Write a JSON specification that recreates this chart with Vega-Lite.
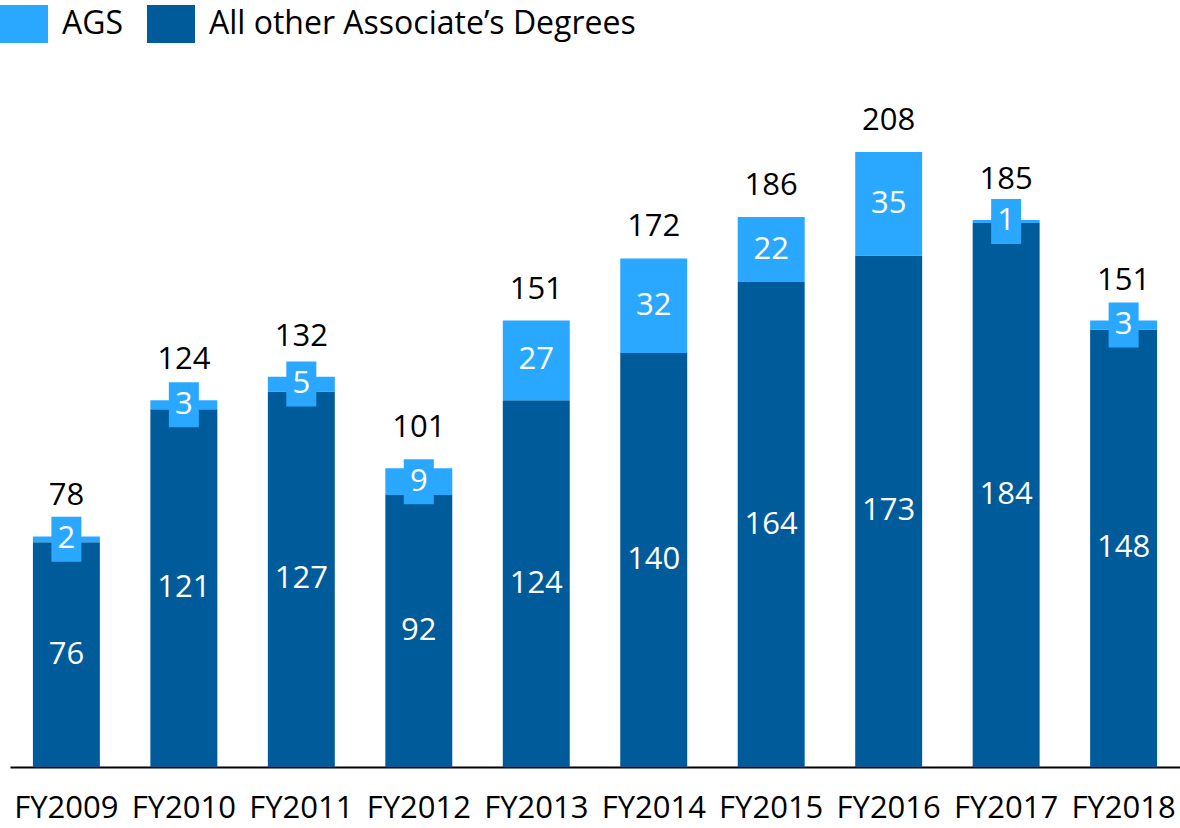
{
  "$schema": "https://vega.github.io/schema/vega-lite/v6.json",
  "width": 1170,
  "height": 615,
  "autosize": {"type": "none"},
  "padding": {"left": 10, "top": 152, "right": 0, "bottom": 61},
  "background": "white",
  "config": {
    "font": "Open Sans",
    "view": {"stroke": null},
    "legend": {
      "orient": "none",
      "direction": "horizontal",
      "legendX": -5,
      "legendY": -147,
      "padding": 0,
      "symbolType": "M-1.264,-1H1.264V1H-1.264Z",
      "symbolSize": 1444,
      "symbolStrokeWidth": 0,
      "symbolOpacity": 1,
      "labelFontSize": 32,
      "labelColor": "black",
      "labelOffset": 19,
      "columnPadding": 22,
      "labelLimit": 700,
      "title": null
    }
  },
  "data": {
    "values": [
      {"year": "FY2009", "type": "All other Associate’s Degrees", "value": 76},
      {"year": "FY2009", "type": "AGS", "value": 2},
      {"year": "FY2010", "type": "All other Associate’s Degrees", "value": 121},
      {"year": "FY2010", "type": "AGS", "value": 3},
      {"year": "FY2011", "type": "All other Associate’s Degrees", "value": 127},
      {"year": "FY2011", "type": "AGS", "value": 5},
      {"year": "FY2012", "type": "All other Associate’s Degrees", "value": 92},
      {"year": "FY2012", "type": "AGS", "value": 9},
      {"year": "FY2013", "type": "All other Associate’s Degrees", "value": 124},
      {"year": "FY2013", "type": "AGS", "value": 27},
      {"year": "FY2014", "type": "All other Associate’s Degrees", "value": 140},
      {"year": "FY2014", "type": "AGS", "value": 32},
      {"year": "FY2015", "type": "All other Associate’s Degrees", "value": 164},
      {"year": "FY2015", "type": "AGS", "value": 22},
      {"year": "FY2016", "type": "All other Associate’s Degrees", "value": 173},
      {"year": "FY2016", "type": "AGS", "value": 35},
      {"year": "FY2017", "type": "All other Associate’s Degrees", "value": 184},
      {"year": "FY2017", "type": "AGS", "value": 1},
      {"year": "FY2018", "type": "All other Associate’s Degrees", "value": 148},
      {"year": "FY2018", "type": "AGS", "value": 3}
    ]
  },
  "encoding": {
    "x": {
      "field": "year",
      "type": "nominal",
      "sort": null,
      "scale": {"paddingInner": 0.43, "paddingOuter": 0.195},
      "axis": {
        "title": null,
        "labelAngle": 0,
        "labelFontSize": 31,
        "labelColor": "black",
        "labelBaseline": "alphabetic",
        "labelPadding": 50,
        "ticks": false,
        "domainColor": "black",
        "domainWidth": 2
      }
    }
  },
  "layer": [
    {
      "mark": {"type": "bar"},
      "encoding": {
        "y": {
          "field": "value",
          "type": "quantitative",
          "stack": "zero",
          "scale": {"domain": [0, 208], "nice": false},
          "axis": null
        },
        "color": {
          "field": "type",
          "type": "nominal",
          "scale": {
            "domain": ["AGS", "All other Associate’s Degrees"],
            "range": ["#2AA8FF", "#005B9A"]
          }
        },
        "order": {"field": "type", "sort": "descending"}
      }
    },
    {
      "transform": [
        {"stack": "value", "groupby": ["year"], "sort": [{"field": "type", "order": "descending"}], "as": ["y0", "y1"]},
        {"calculate": "(datum.y0 + datum.y1) / 2", "as": "mid"},
        {"filter": "datum.type == 'AGS' && datum.value < 15"}
      ],
      "mark": {
        "type": "point",
        "shape": "M-0.667,-1H0.667V1H-0.667Z",
        "size": 2025,
        "filled": true,
        "opacity": 1,
        "strokeWidth": 0,
        "color": "#2AA8FF"
      },
      "encoding": {
        "y": {"field": "mid", "type": "quantitative"}
      }
    },
    {
      "transform": [
        {"stack": "value", "groupby": ["year"], "sort": [{"field": "type", "order": "descending"}], "as": ["y0", "y1"]},
        {"calculate": "(datum.y0 + datum.y1) / 2", "as": "mid"}
      ],
      "mark": {"type": "text", "color": "white", "fontSize": 31, "baseline": "middle", "align": "center"},
      "encoding": {
        "y": {"field": "mid", "type": "quantitative"},
        "text": {"field": "value", "type": "quantitative"}
      }
    },
    {
      "transform": [
        {"aggregate": [{"op": "sum", "field": "value", "as": "total"}, {"op": "min", "field": "value", "as": "minv"}], "groupby": ["year"]},
        {"filter": "datum.minv >= 15"}
      ],
      "mark": {"type": "text", "color": "black", "fontSize": 31, "baseline": "middle", "align": "center", "dy": -31},
      "encoding": {
        "y": {"field": "total", "type": "quantitative"},
        "text": {"field": "total", "type": "quantitative"}
      }
    },
    {
      "transform": [
        {"aggregate": [{"op": "sum", "field": "value", "as": "total"}, {"op": "min", "field": "value", "as": "minv"}], "groupby": ["year"]},
        {"filter": "datum.minv < 15"}
      ],
      "mark": {"type": "text", "color": "black", "fontSize": 31, "baseline": "middle", "align": "center", "dy": -40},
      "encoding": {
        "y": {"field": "total", "type": "quantitative"},
        "text": {"field": "total", "type": "quantitative"}
      }
    }
  ]
}
